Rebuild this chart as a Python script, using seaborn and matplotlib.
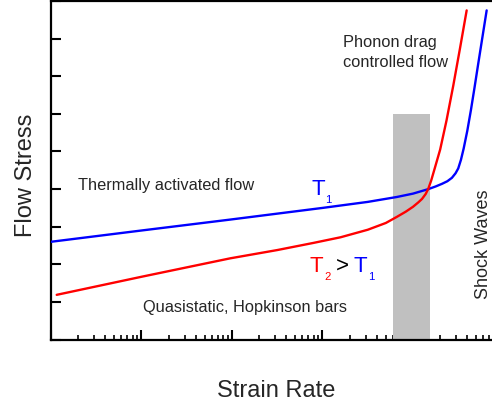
import numpy as np
import pandas as pd
import matplotlib
matplotlib.use("Agg")
import matplotlib.pyplot as plt
import seaborn as sns
from matplotlib.ticker import LogLocator, NullFormatter, FixedLocator

# ---- data (log10 of strain rate, arbitrary flow-stress units) ----
blue_log_rate = [0.0, 1.0, 1.98, 3.0, 3.5, 3.82, 4.0, 4.169, 4.25, 4.32, 4.38,
                 4.43, 4.47, 4.50, 4.53, 4.56, 4.60, 4.64, 4.68, 4.72, 4.76, 4.814]
blue_stress = [2.60, 2.90, 3.19, 3.50, 3.66, 3.79, 3.88, 4.00, 4.07, 4.14, 4.21,
               4.30, 4.42, 4.55, 4.78, 5.08, 5.55, 6.10, 6.70, 7.32, 7.93, 8.75]
red_log_rate = [0.063, 1.0, 1.98, 2.5, 2.9, 3.2, 3.5, 3.7, 3.82, 3.92, 4.0, 4.06,
                4.10, 4.14, 4.169, 4.20, 4.24, 4.30, 4.37, 4.445, 4.52, 4.593]
red_stress = [1.19, 1.67, 2.16, 2.38, 2.57, 2.72, 2.92, 3.10, 3.26, 3.40, 3.53, 3.65,
              3.74, 3.87, 4.01, 4.22, 4.55, 5.05, 5.82, 6.75, 7.75, 8.75]
band_log_rate = [3.776, 4.19]
band_top = 6.0
x_log_limits = [0.0, 4.873]
y_limits = [0, 9]
y_ticks = [0, 1, 2, 3, 4, 5, 6, 7, 8, 9]

sns.set_style("ticks")
plt.rcParams["font.family"] = ["Liberation Sans", "DejaVu Sans"]

W, H = 492, 402
fig = plt.figure(figsize=(W / 100, H / 100), dpi=100)
ax_l, ax_r, ax_t, ax_b = 51, 492, 2, 340.6
ax = fig.add_axes([ax_l / W, 1 - ax_b / H, (ax_r - ax_l) / W, (ax_b - ax_t) / H])

df_blue = pd.DataFrame({"rate": 10.0 ** np.array(blue_log_rate), "stress": blue_stress})
df_red = pd.DataFrame({"rate": 10.0 ** np.array(red_log_rate), "stress": red_stress})

band = 10.0 ** np.array(band_log_rate)
ax.fill_between(band, [0, 0], [band_top, band_top], color="#c0c0c0", lw=0, zorder=1)

sns.lineplot(data=df_blue, x="rate", y="stress", color="#0000ff", lw=1.7,
             sort=False, estimator=None, ax=ax, zorder=3)
sns.lineplot(data=df_red, x="rate", y="stress", color="#ff0000", lw=1.7,
             sort=False, estimator=None, ax=ax, zorder=3)
for ln in ax.lines:
    ln.set_solid_joinstyle("round")

ax.set_xscale("log")
ax.set_xlim(10 ** x_log_limits[0], 10 ** x_log_limits[1])
ax.set_ylim(*y_limits)
ax.xaxis.set_major_locator(LogLocator(base=10, numticks=20))
ax.xaxis.set_minor_locator(LogLocator(base=10, subs=np.arange(2, 10), numticks=20))
ax.xaxis.set_major_formatter(NullFormatter())
ax.xaxis.set_minor_formatter(NullFormatter())
ax.yaxis.set_major_locator(FixedLocator(y_ticks))
ax.yaxis.set_major_formatter(NullFormatter())
ax.tick_params(axis="both", which="major", direction="in", length=7, width=1.5,
               color="black", top=False, right=False)
ax.tick_params(axis="x", which="minor", direction="in", length=3.5, width=1.2,
               color="black", top=False)

for s in ["left", "bottom", "top"]:
    ax.spines[s].set_linewidth(1.6)
    ax.spines[s].set_color("black")
ax.spines["right"].set_visible(False)

def axx(px):
    return (px - ax_l) / (ax_r - ax_l)

def axy(py):
    return (ax_b - py) / (ax_b - ax_t)

tr = ax.transAxes
ax.set_xlabel("Strain Rate", fontsize=17, va="baseline")
ax.xaxis.set_label_coords(axx(276), axy(397))
ax.set_ylabel("Flow Stress", fontsize=17, va="baseline")
ax.yaxis.set_label_coords(axx(32), axy(175))

small = 11.8
ax.text(axx(78), axy(190), "Thermally activated flow", fontsize=small,
        ha="left", va="baseline", transform=tr)
ax.text(axx(143), axy(312), "Quasistatic, Hopkinson bars", fontsize=small,
        ha="left", va="baseline", transform=tr)
ax.text(axx(343), axy(47), "Phonon drag", fontsize=small,
        ha="left", va="baseline", transform=tr)
ax.text(axx(343), axy(67), "controlled flow", fontsize=small,
        ha="left", va="baseline", transform=tr)
ax.text(axx(488), axy(244), "Shock Waves", fontsize=13, rotation=90,
        rotation_mode="anchor", ha="center", va="baseline", transform=tr)

big, sub = 16, 8.2
ax.text(axx(311), axy(195), "T", fontsize=big, color="#0000ff", ha="left",
        va="baseline", transform=tr)
ax.text(axx(325), axy(203), "1", fontsize=sub, color="#0000ff", ha="left",
        va="baseline", transform=tr)
ax.text(axx(310), axy(272), "T", fontsize=big, color="#ff0000", ha="left",
        va="baseline", transform=tr)
ax.text(axx(324), axy(280), "2", fontsize=sub, color="#ff0000", ha="left",
        va="baseline", transform=tr)
ax.text(axx(336), axy(272), ">", fontsize=big, color="black", ha="left",
        va="baseline", transform=tr)
ax.text(axx(354), axy(272), "T", fontsize=big, color="#0000ff", ha="left",
        va="baseline", transform=tr)
ax.text(axx(368), axy(280), "1", fontsize=sub, color="#0000ff", ha="left",
        va="baseline", transform=tr)

fig.savefig("out.png", dpi=100)
